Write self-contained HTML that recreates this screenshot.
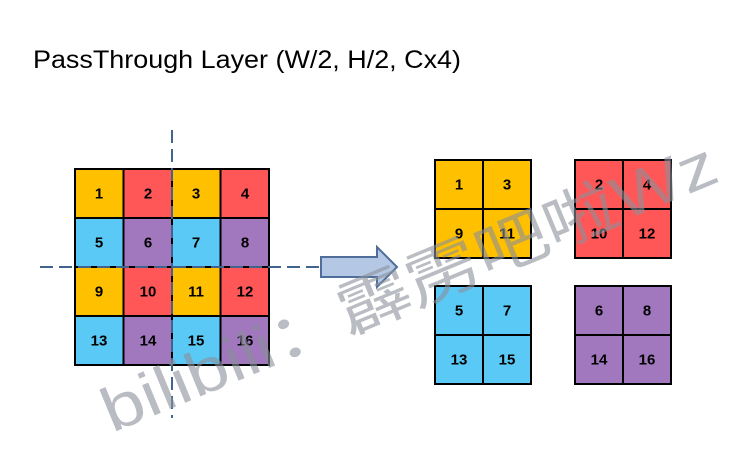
<!DOCTYPE html>
<html><head><meta charset="utf-8"><style>
html,body{margin:0;padding:0;background:#fff;width:743px;height:459px;overflow:hidden}
svg{display:block}
.n{font-family:"Liberation Sans",sans-serif;font-weight:bold;font-size:15px;text-anchor:middle;dominant-baseline:central;fill:#000}
</style></head><body>
<svg width="743" height="459" xmlns="http://www.w3.org/2000/svg">
<text x="33" y="68" font-family="Liberation Sans, sans-serif" font-size="25" textLength="428" lengthAdjust="spacingAndGlyphs" fill="#000">PassThrough Layer (W/2, H/2, Cx4)</text>
<g stroke="#000" stroke-width="2">
<rect x="75" y="169" width="48.5" height="49" fill="#FFC000"/>
<rect x="123.5" y="169" width="48.5" height="49" fill="#FF5757"/>
<rect x="172" y="169" width="48.5" height="49" fill="#FFC000"/>
<rect x="220.5" y="169" width="48.5" height="49" fill="#FF5757"/>
<rect x="75" y="218" width="48.5" height="49" fill="#5BC9F5"/>
<rect x="123.5" y="218" width="48.5" height="49" fill="#A177BE"/>
<rect x="172" y="218" width="48.5" height="49" fill="#5BC9F5"/>
<rect x="220.5" y="218" width="48.5" height="49" fill="#A177BE"/>
<rect x="75" y="267" width="48.5" height="49" fill="#FFC000"/>
<rect x="123.5" y="267" width="48.5" height="49" fill="#FF5757"/>
<rect x="172" y="267" width="48.5" height="49" fill="#FFC000"/>
<rect x="220.5" y="267" width="48.5" height="49" fill="#FF5757"/>
<rect x="75" y="316" width="48.5" height="49" fill="#5BC9F5"/>
<rect x="123.5" y="316" width="48.5" height="49" fill="#A177BE"/>
<rect x="172" y="316" width="48.5" height="49" fill="#5BC9F5"/>
<rect x="220.5" y="316" width="48.5" height="49" fill="#A177BE"/>
</g>
<g class="n">
<text class="n" x="99" y="194">1</text><text class="n" x="148" y="194">2</text><text class="n" x="196" y="194">3</text><text class="n" x="245" y="194">4</text>
<text class="n" x="99" y="243">5</text><text class="n" x="148" y="243">6</text><text class="n" x="196" y="243">7</text><text class="n" x="245" y="243">8</text>
<text class="n" x="99" y="292">9</text><text class="n" x="148" y="292">10</text><text class="n" x="196" y="292">11</text><text class="n" x="245" y="292">12</text>
<text class="n" x="99" y="341">13</text><text class="n" x="148" y="341">14</text><text class="n" x="196" y="341">15</text><text class="n" x="245" y="341">16</text>
</g>
<g stroke="#41648F" stroke-width="2" stroke-dasharray="13 6">
<line x1="172" y1="130" x2="172" y2="418"/>
<line x1="40" y1="267" x2="322" y2="267"/>
</g>
<path d="M321,257 L377,257 L377,247 L397,267 L377,287 L377,277 L321,277 Z" fill="#B4C7E4" stroke="#4F6E9A" stroke-width="2"/>
<g stroke="#000" stroke-width="2">
<rect x="435" y="160" width="48" height="49" fill="#FFC000"/><rect x="483" y="160" width="48" height="49" fill="#FFC000"/>
<rect x="435" y="209" width="48" height="49" fill="#FFC000"/><rect x="483" y="209" width="48" height="49" fill="#FFC000"/>
<rect x="575" y="160" width="48" height="49" fill="#FF5757"/><rect x="623" y="160" width="48" height="49" fill="#FF5757"/>
<rect x="575" y="209" width="48" height="49" fill="#FF5757"/><rect x="623" y="209" width="48" height="49" fill="#FF5757"/>
<rect x="435" y="286" width="48" height="49" fill="#5BC9F5"/><rect x="483" y="286" width="48" height="49" fill="#5BC9F5"/>
<rect x="435" y="335" width="48" height="49" fill="#5BC9F5"/><rect x="483" y="335" width="48" height="49" fill="#5BC9F5"/>
<rect x="575" y="286" width="48" height="49" fill="#A177BE"/><rect x="623" y="286" width="48" height="49" fill="#A177BE"/>
<rect x="575" y="335" width="48" height="49" fill="#A177BE"/><rect x="623" y="335" width="48" height="49" fill="#A177BE"/>
</g>
<g>
<text class="n" x="459" y="185">1</text><text class="n" x="507" y="185">3</text>
<text class="n" x="459" y="234">9</text><text class="n" x="507" y="234">11</text>
<text class="n" x="599" y="185">2</text><text class="n" x="647" y="185">4</text>
<text class="n" x="599" y="234">10</text><text class="n" x="647" y="234">12</text>
<text class="n" x="459" y="311">5</text><text class="n" x="507" y="311">7</text>
<text class="n" x="459" y="360">13</text><text class="n" x="507" y="360">15</text>
<text class="n" x="599" y="311">6</text><text class="n" x="647" y="311">8</text>
<text class="n" x="599" y="360">14</text><text class="n" x="647" y="360">16</text>
</g>
<text transform="translate(112,433) rotate(-22.5)" font-family="Liberation Sans, 'Noto Sans CJK SC', sans-serif" font-size="62" fill="#8a9099" fill-opacity="0.6" textLength="660" lengthAdjust="spacingAndGlyphs">bilibili：霹雳吧啦Wz</text>
</svg>
</body></html>
